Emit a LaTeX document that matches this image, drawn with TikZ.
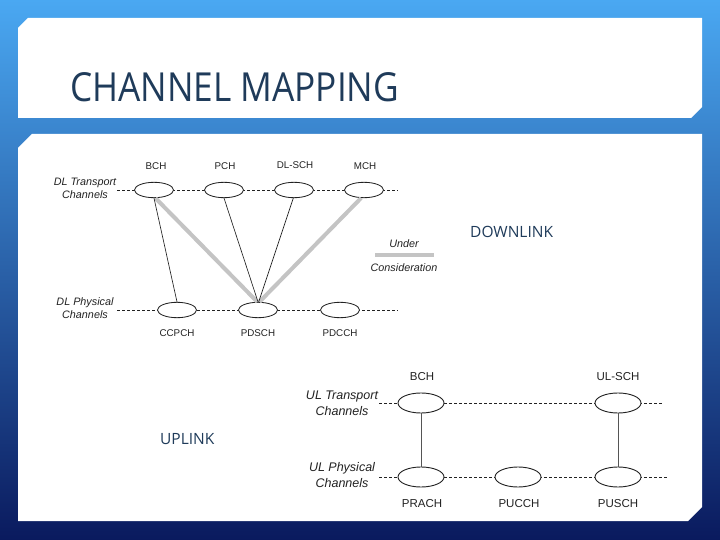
\documentclass[tikz,border=0pt]{standalone}
\usepackage{fontspec}
\setmainfont{Liberation Sans}
\newfontfamily\titlefont{Open Sans}
\usetikzlibrary{shapes.geometric}
\definecolor{bgtop}{HTML}{4AA8F2}
\definecolor{bgmid}{HTML}{2C74C8}
\definecolor{bgbot}{HTML}{0A1A5E}
\definecolor{titlecol}{HTML}{1F3B5A}
\definecolor{txt}{HTML}{222222}
\definecolor{lgray}{HTML}{C4C4C4}
\definecolor{vgray}{HTML}{555555}
\begin{document}
\begin{tikzpicture}[x=1pt,y=-1pt,
  dlch/.style={ellipse, draw=txt, fill=white, minimum width=39pt, minimum height=15.4pt, inner sep=0pt, line width=0.85pt},
  ulch/.style={ellipse, draw=txt, fill=white, minimum width=46pt, minimum height=20pt, inner sep=0pt, line width=0.9pt},
  dline/.style={draw=txt, dash pattern=on 3pt off 2pt, line width=0.95pt},
  thinline/.style={draw=txt, line width=0.65pt},
  grayline/.style={draw=lgray, line width=4pt},
  vline/.style={draw=vgray, line width=0.9pt},
  dllab/.style={text=txt, font=\fontsize{9.8}{11}\selectfont, inner sep=0pt},
  ullab/.style={text=txt, font=\fontsize{11.5}{13}\selectfont, inner sep=0pt},
  dlside/.style={text=txt, align=center, font=\fontsize{10.8}{12.8}\selectfont\itshape, inner sep=0pt},
  ulside/.style={text=txt, align=center, font=\fontsize{12.5}{16}\selectfont\itshape, inner sep=0pt},
  sect/.style={text=titlecol, font=\titlefont\fontsize{15.5}{18}\selectfont, inner sep=0pt, anchor=base west}
]
\useasboundingbox (0,0) rectangle (720,540);
\shade[top color=bgtop, middle color=bgmid, bottom color=bgbot] (0,0) rectangle (720,540);
% panels
\fill[white] (28,18) -- (702,18) -- (702,107) -- (691,118) -- (18,118) -- (18,28) -- cycle;
\fill[white] (32,134) -- (702,134) -- (702,507) -- (688,521) -- (18,521) -- (18,148) -- cycle;
% title
\node[text=titlecol, inner sep=0pt, anchor=base west] (title) at (70,102)
  {\titlefont\fontsize{40}{44}\selectfont\scalebox{0.88}[1]{CHANNEL MAPPING}};
\node[sect] (down) at (470,237) {DOWNLINK};
\node[sect] (up) at (160,444) {UPLINK};

% ===== DL =====
\coordinate (dlt0) at (117,190); \coordinate (dlt1) at (398,190);
\coordinate (dlp0) at (117,310); \coordinate (dlp1) at (398,310);
\draw[dline] (dlt0) -- (dlt1);
\draw[dline] (dlp0) -- (dlp1);
\node[dlside] (dltr) at (85,188) {DL Transport\\Channels};
\node[dlside] (dlph) at (85,308.5) {DL Physical\\Channels};

\node[dlch] (bch) at (154,190) {};
\node[dlch] (pch) at (224,190) {};
\node[dlch] (dlsch) at (294,190) {};
\node[dlch] (mch) at (364,190) {};
\node[dlch] (ccpch) at (177,310) {};
\node[dlch] (pdsch) at (258,310) {};
\node[dlch] (pdcch) at (340,310) {};

\node[dllab] (bchl) at (156,166.5) {BCH};
\node[dllab] (pchl) at (225,166.5) {PCH};
\node[dllab] (dlschl) at (295,165.5) {DL-SCH};
\node[dllab] (mchl) at (365,166.5) {MCH};
\node[dllab] (ccpchl) at (177,333) {CCPCH};
\node[dllab] (pdschl) at (258,333) {PDSCH};
\node[dllab] (pdcchl) at (340,333) {PDCCH};

\draw[grayline] (bch.-80) -- (pdsch.95);
\draw[grayline] (mch.-110) -- (pdsch.80);
\draw[thinline] (bch.south) -- (ccpch.north);
\draw[thinline] (pch.south) -- (pdsch.north);
\draw[thinline] (dlsch.-95) -- (pdsch.85);

% legend
\coordinate (lg0) at (375,255); \coordinate (lg1) at (434,255);
\draw[grayline, line width=3.5pt] (lg0) -- (lg1);
\node[dlside] (lgu) at (404,243.5) {Under};
\node[dlside] (lgc) at (404,268) {Consideration};

% ===== UL =====
\coordinate (ult0) at (379,403); \coordinate (ult1) at (662,403);
\coordinate (ulp0) at (379,477); \coordinate (ulp1) at (667,477);
\draw[dline] (ult0) -- (ult1);
\draw[dline] (ulp0) -- (ulp1);
\node[ulside] (ultr) at (342,403) {UL Transport\\Channels};
\node[ulside] (ulph) at (342,475) {UL Physical\\Channels};

\node[ulch] (ubch) at (421,403) {};
\node[ulch] (ulsch) at (618,403) {};
\node[ulch] (prach) at (421,477) {};
\node[ulch] (pucch) at (518,477) {};
\node[ulch] (pusch) at (618,477) {};

\node[ullab] (ubchl) at (422,377) {BCH};
\node[ullab] (ulschl) at (618,377) {UL-SCH};
\node[ullab] (prachl) at (422,504) {PRACH};
\node[ullab] (pucchl) at (519,504) {PUCCH};
\node[ullab] (puschl) at (618,504) {PUSCH};

\draw[vline] (ubch.south) -- (prach.north);
\draw[vline] (ulsch.south) -- (pusch.north);
\end{tikzpicture}
\end{document}
